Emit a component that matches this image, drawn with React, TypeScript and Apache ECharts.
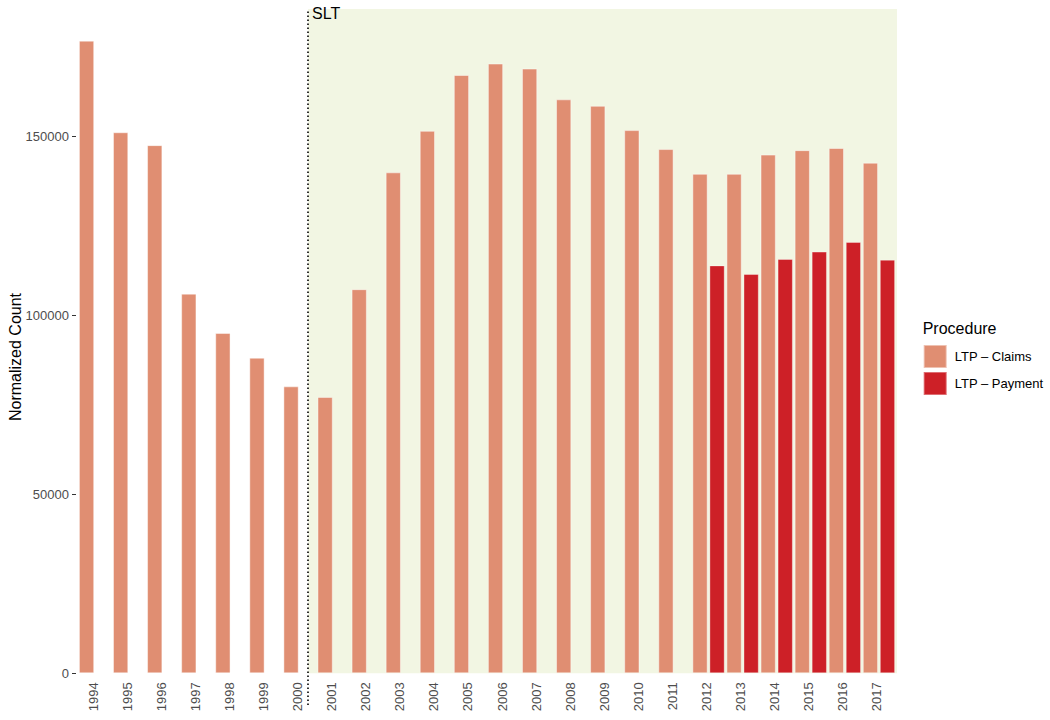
import React, { useEffect, useRef } from "react";
import * as echarts from "echarts";

// ---- data ----
const YEARS = [
  1994, 1995, 1996, 1997, 1998, 1999, 2000, 2001, 2002, 2003, 2004, 2005,
  2006, 2007, 2008, 2009, 2010, 2011, 2012, 2013, 2014, 2015, 2016, 2017,
];
const CLAIMS = [
  176800, 151200, 147600, 106100, 95100, 88200, 80200, 77250, 107350, 140000,
  151600, 167200, 170400, 169000, 160400, 158600, 151800, 146500, 139600,
  139600, 144950, 146200, 146800, 142700,
];
const PAYMENT_YEARS = [2012, 2013, 2014, 2015, 2016, 2017];
const PAYMENT = [114000, 111600, 115800, 117850, 120550, 115600];
const Y_TICKS = [0, 50000, 100000, 150000];
const SERIES_NAMES = ["LTP – Claims", "LTP – Payment"];
const LEGEND_TITLE = "Procedure";
const Y_TITLE = "Normalized Count";
const SLT_START = 2000.5;
const SLT_LABEL = "SLT";

// ---- scale / layout ----
const X_MIN = 1993.69;
const X_MAX = 2017.78;
const Y_MIN = -8840;
const Y_MAX = 185640;
const PAYMENT_DODGE = 0.5;
const GRID_TOP = 9;
const GRID_BOTTOM = 15;
const CHART_H = 720;

const FONT = "'Liberation Sans', Arial, Helvetica, sans-serif";
const CLAIMS_COLOR = "#E08E72";
const PAYMENT_COLOR = "#CD2027";
const SLT_FILL = "#F2F6E3";

export default function App() {
  const ref = useRef<HTMLDivElement>(null);

  useEffect(() => {
    document.body.style.margin = "0";
    const chart = echarts.init(ref.current as HTMLDivElement, null, {
      renderer: "svg",
    });
    // x-axis labels hang from the zero line (which lies above the panel bottom)
    const gridH = CHART_H - GRID_TOP - GRID_BOTTOM;
    const zeroOffset = (gridH * (0 - Y_MIN)) / (Y_MAX - Y_MIN);
    const barBase = {
      type: "bar",
      barWidth: 15.3,
      barGap: "-100%",
      silent: true,
    };
    const option: any = {
      animation: false,
      backgroundColor: "#ffffff",
      textStyle: { fontFamily: FONT },
      grid: {
        left: 76,
        right: 153,
        top: GRID_TOP,
        bottom: GRID_BOTTOM,
        containLabel: false,
        outerBoundsMode: "none",
      },
      legend: {
        orient: "vertical",
        left: 917.7,
        top: 339,
        itemWidth: 23,
        itemHeight: 23,
        itemGap: 2,
        icon: "rect",
        selectedMode: false,
        data: SERIES_NAMES,
        textStyle: {
          fontSize: 13,
          color: "#000",
          fontFamily: FONT,
          padding: [0, 0, 0, 3],
        },
      },
      graphic: [
        {
          type: "text",
          left: 922.7,
          top: 320,
          style: {
            text: LEGEND_TITLE,
            fontSize: 16,
            fill: "#000",
            fontFamily: FONT,
          },
        },
      ],
      xAxis: {
        type: "value",
        min: X_MIN,
        max: X_MAX,
        offset: -zeroOffset,
        splitLine: { show: false },
        axisLine: { show: false },
        axisTick: { show: false },
        axisLabel: {
          customValues: YEARS,
          rotate: 90,
          fontSize: 13,
          color: "#4d4d4d",
          margin: 9,
          fontFamily: FONT,
          verticalAlign: "top",
          formatter: (v: number) => String(v),
        },
      },
      yAxis: {
        type: "value",
        min: Y_MIN,
        max: Y_MAX,
        name: Y_TITLE,
        nameLocation: "middle",
        nameGap: 53,
        nameRotate: 90,
        nameMoveOverlap: false,
        nameTextStyle: { fontSize: 16, color: "#000", fontFamily: FONT },
        splitLine: { show: false },
        axisLine: { show: false },
        axisTick: {
          show: true,
          length: 4,
          customValues: Y_TICKS,
          lineStyle: { color: "#333", width: 1 },
        },
        axisLabel: {
          customValues: Y_TICKS,
          fontSize: 13,
          color: "#4d4d4d",
          margin: 7,
          fontFamily: FONT,
          formatter: (v: number) => String(v),
        },
      },
      series: [
        {
          ...barBase,
          name: SERIES_NAMES[0],
          data: YEARS.map((y, i) => [y, CLAIMS[i]]),
          itemStyle: {
            color: CLAIMS_COLOR,
            borderColor: "rgba(255,255,255,0.45)",
            borderWidth: 1,
          },
          markArea: {
            silent: true,
            itemStyle: { color: SLT_FILL, opacity: 1, borderWidth: 0 },
            label: {
              show: true,
              position: [4, -4],
              formatter: SLT_LABEL,
              fontSize: 16,
              color: "#000",
              fontFamily: FONT,
            },
            data: [[{ xAxis: SLT_START, yAxis: 0 }, { xAxis: X_MAX, yAxis: Y_MAX }]],
          },
          markLine: {
            silent: true,
            symbol: "none",
            label: { show: false },
            lineStyle: { color: "#000", type: [1.5, 2.5], width: 1.6 },
            data: [{ xAxis: SLT_START }],
          },
        },
        {
          ...barBase,
          name: SERIES_NAMES[1],
          data: PAYMENT_YEARS.map((y, i) => [y + PAYMENT_DODGE, PAYMENT[i]]),
          itemStyle: {
            color: PAYMENT_COLOR,
            borderColor: "rgba(255,255,255,0.35)",
            borderWidth: 1,
          },
        },
      ],
    };
    chart.setOption(option);
    return () => chart.dispose();
  }, []);

  return <div ref={ref} style={{ width: 1050, height: 720 }} />;
}
